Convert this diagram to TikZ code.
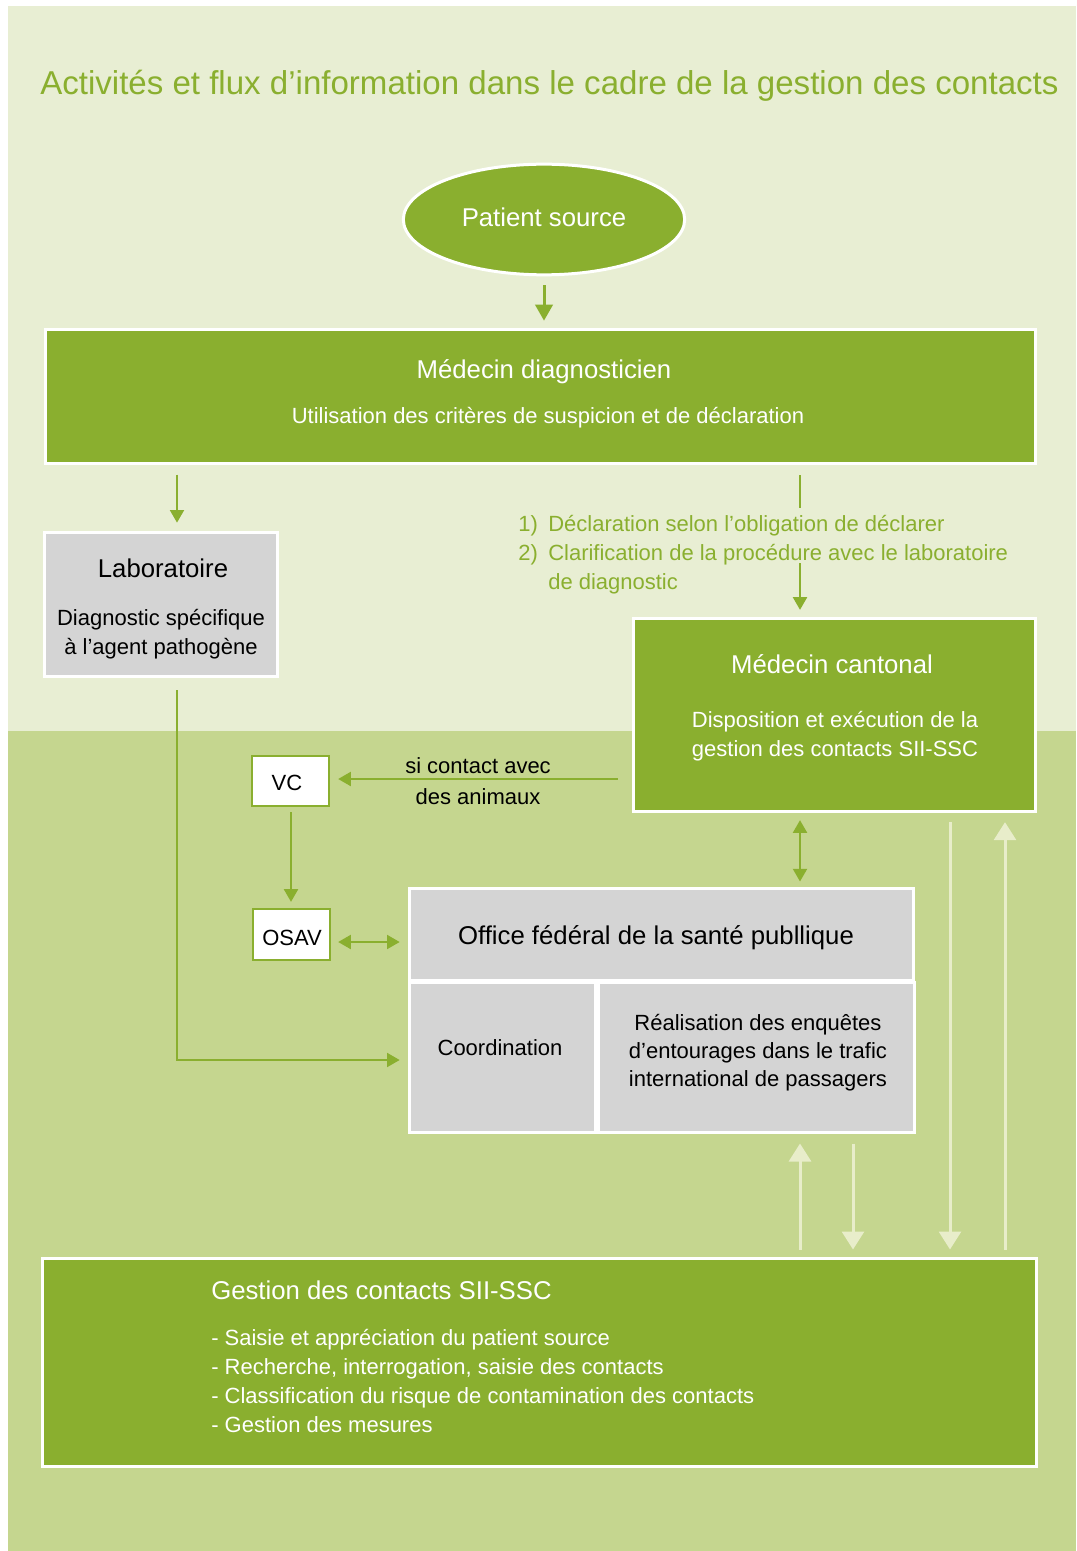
\documentclass[tikz,border=0pt]{standalone}
\usepackage{fontspec}
\setmainfont{Liberation Sans}
\usetikzlibrary{arrows.meta,calc,shapes.geometric}
\definecolor{dg}{HTML}{8AAF2F}
\definecolor{bgtop}{HTML}{E8EED3}
\definecolor{bgbot}{HTML}{C5D68F}
\definecolor{lar}{HTML}{E8EDCA}
\definecolor{gr}{HTML}{D4D4D4}
\begin{document}
\begin{tikzpicture}[x=0.75pt,y=-0.75pt,
  box/.style={rectangle, draw=white, line width=2.25pt, inner sep=0pt},
  gbox/.style={box, fill=dg},
  graybox/.style={box, fill=gr},
  wbox/.style={rectangle, draw=dg, line width=1.5pt, fill=white, inner sep=0pt},
  hdr/.style={font=\fontsize{19.3}{23}\selectfont, inner sep=0pt, anchor=base},
  body/.style={font=\fontsize{16.5}{20}\selectfont, inner sep=0pt, anchor=base},
  gline/.style={draw=dg, line width=1.5pt},
  garrow/.style={gline, -{Triangle[width=10.5pt,length=9.5pt]}},
  gdarrow/.style={gline, {Triangle[width=10.5pt,length=9.5pt]}-{Triangle[width=10.5pt,length=9.5pt]}},
  bigarrow/.style={draw=dg, line width=2.25pt, -{Triangle[width=13pt,length=12pt]}},
  larrow/.style={draw=lar, line width=2.25pt, -{Triangle[width=16.5pt,length=13.5pt]}}
]
\useasboundingbox (0,0) rectangle (1076,1551);
\fill[white] (0,0) rectangle (1076,1551);
\fill[bgtop] (8,6) rectangle (1076,1551);
\fill[bgbot] (8,731) rectangle (1076,1551);

% title
\node[font=\fontsize{24.8}{30}\selectfont, text=dg, inner sep=0pt, anchor=base west] (title) at (40,95)
  {Activités et flux d’information dans le cadre de la gestion des contacts};

% boxes
\node[ellipse, draw=white, line width=2.25pt, fill=dg, minimum width=211pt, minimum height=83pt, inner sep=0pt] (ps) at (544,219.5) {};
\node[gbox, minimum width=743pt, minimum height=101pt] (diag) at (540.5,396.5) {};
\node[graybox, minimum width=175pt, minimum height=108.5pt] (lab) at (161,604.5) {};
\node[gbox, minimum width=302pt, minimum height=145pt] (cant) at (834.5,715) {};
\node[wbox, minimum width=58pt, minimum height=38pt] (vc) at (290.5,781) {};
\node[wbox, minimum width=58pt, minimum height=38.5pt] (osav) at (291.5,934.5) {};
\node[graybox, minimum width=378.5pt, minimum height=69pt] (ofsp) at (661.5,934) {};
\node[graybox, minimum width=140pt, minimum height=112.5pt] (coord) at (502.5,1057) {};
\node[graybox, minimum width=237pt, minimum height=112.5pt] (real) at (756,1057) {};
\node[gbox, minimum width=745.5pt, minimum height=156pt] (gest) at (539,1362) {};

% texts
\node[hdr, text=white] (psT) at (544,227) {Patient source};
\node[hdr, text=white] (diagT) at (544,378) {Médecin diagnosticien};
\node[body, text=white] (diagB) at (548,423) {Utilisation des critères de suspicion et de déclaration};
\node[hdr] (labT) at (163,577) {Laboratoire};
\node[body] (labB1) at (161,625) {Diagnostic spécifique};
\node[body] (labB2) at (161,654) {à l’agent pathogène};
\node[body, text=dg, anchor=base west] (n1) at (518,531) {1)};
\node[body, text=dg, anchor=base west] (d1) at (548,531) {Déclaration selon l’obligation de déclarer};
\node[body, text=dg, anchor=base west] (n2) at (518,560) {2)};
\node[body, text=dg, anchor=base west] (d2) at (548,560) {Clarification de la procédure avec le laboratoire};
\node[body, text=dg, anchor=base west] (d3) at (548,589) {de diagnostic};
\node[hdr, text=white] (cantT) at (832,673) {Médecin cantonal};
\node[body, text=white] (cantB1) at (835,727) {Disposition et exécution de la};
\node[body, text=white] (cantB2) at (835,756) {gestion des contacts SII-SSC};
\node[body] (vcT) at (287,790) {VC};
\node[body] (osavT) at (292,945) {OSAV};
\node[body] (si1) at (478,773) {si contact avec};
\node[body] (si2) at (478,804) {des animaux};
\node[hdr] (ofspT) at (656,944) {Office fédéral de la santé publlique};
\node[body] (coordT) at (500,1055) {Coordination};
\node[body] (realT1) at (758,1030) {Réalisation des enquêtes};
\node[body] (realT2) at (758,1058) {d’entourages dans le trafic};
\node[body] (realT3) at (758,1086) {international de passagers};
\node[hdr, text=white, anchor=base west] (gestT) at (211,1299) {Gestion des contacts SII-SSC};
\node[body, text=white, anchor=base west] (g1) at (211,1345) {- Saisie et appréciation du patient source};
\node[body, text=white, anchor=base west] (g2) at (211,1374) {- Recherche, interrogation, saisie des contacts};
\node[body, text=white, anchor=base west] (g3) at (211,1403) {- Classification du risque de contamination des contacts};
\node[body, text=white, anchor=base west] (g4) at (211,1432) {- Gestion des mesures};

% connectors
\draw[bigarrow] ($(ps.south)+(0,9)$) -- ($(diag.north)+(3.5,-7)$);
\draw[garrow] ($(lab.north)+(16,-56)$) -- ($(lab.north)+(16,-8)$);
\coordinate (c1) at (800,508);
\coordinate (c2) at (800,563);
\draw[gline] ($(diag.south -| cant.north)+(-34.5,10)$) -- (c1);
\draw[garrow] (c2) -- ($(cant.north)+(-34.5,-7)$);
\draw[garrow] ($(cant.west |- vc.east)+(-14,-2)$) -- ($(vc.east)+(8,-2)$);
\draw[garrow] ($(vc.south)+(0.5,5)$) -- ($(osav.north)+(-0.5,-6)$);
\draw[gdarrow] ($(osav.east)+(7,7.5)$) -- ($(ofsp.west |- osav.east)+(-8,7.5)$);
\draw[garrow] ($(lab.south)+(16,12)$) |- ($(coord.west)+(-8,3)$);
\draw[gdarrow] ($(cant.south)+(-34.5,7)$) -- ($(ofsp.north -| cant.south)+(-34.5,-5)$);
\draw[larrow] ($(cant.south)+(115.5,9)$) -- ($(gest.north -| cant.south)+(115.5,-7)$);
\draw[larrow] ($(gest.north -| cant.south)+(170.5,-7)$) -- ($(cant.south)+(170.5,9)$);
\draw[larrow] ($(gest.north -| real.south)+(44,-7)$) -- ($(real.south)+(44,10)$);
\draw[larrow] ($(real.south)+(97,10)$) -- ($(gest.north -| real.south)+(97,-7)$);
\end{tikzpicture}
\end{document}
